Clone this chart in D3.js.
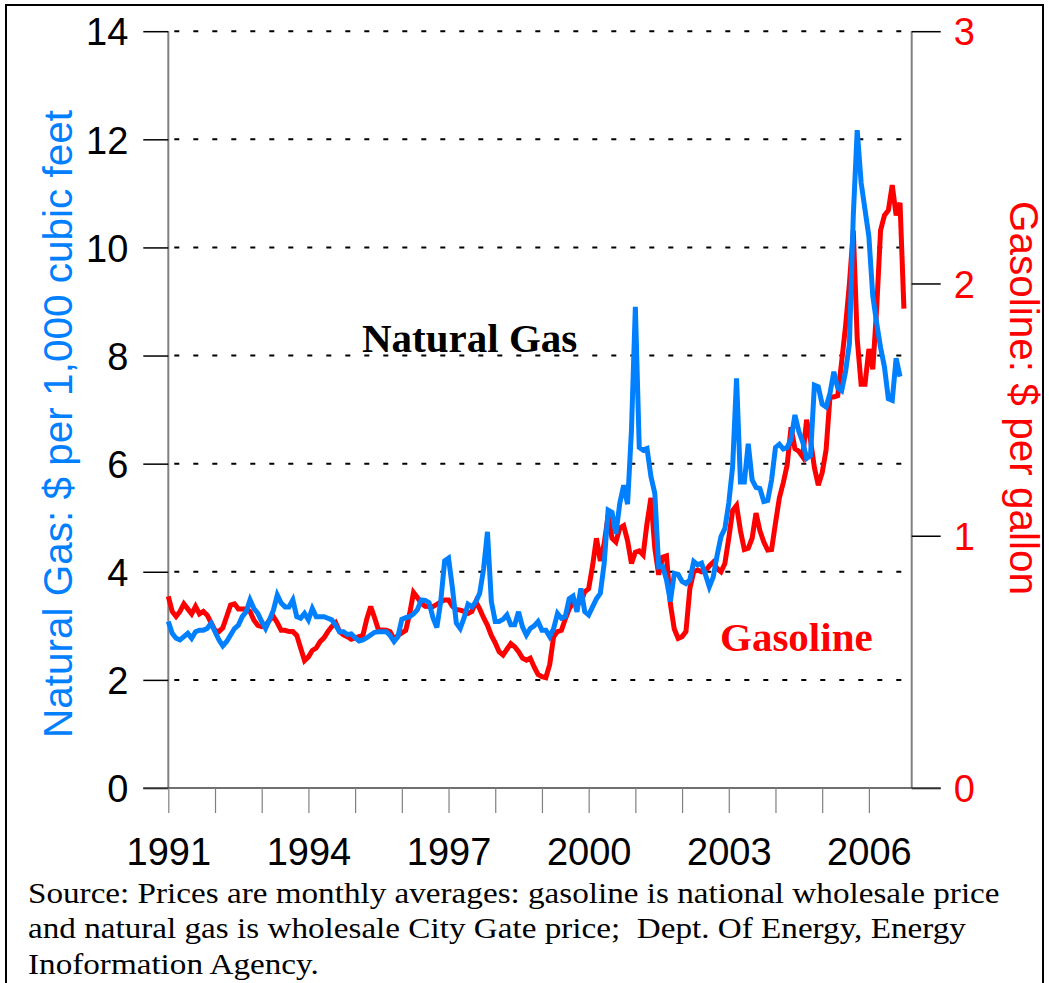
<!DOCTYPE html>
<html><head><meta charset="utf-8">
<script src="https://cdn.jsdelivr.net/npm/d3@7/dist/d3.min.js"></script>
<style>body{margin:0;background:#fff;} svg{display:block;}</style>
</head><body>
<svg id="chart" width="1049" height="983"></svg>
<script>
// Monthly averages starting January 1991
const startYear = 1991;
// Natural gas city gate price, $ per 1,000 cubic feet (Jan 1991 - Sep 2006)
const naturalGas = [
 3.08,2.86,2.77,2.74,2.80,2.86,2.77,2.89,2.92,2.92,2.95,3.05,
 2.89,2.74,2.63,2.71,2.83,2.95,3.01,3.17,3.26,3.48,3.32,3.23,
 3.08,2.95,3.11,3.29,3.57,3.42,3.35,3.35,3.48,3.17,3.14,3.23,
 3.11,3.32,3.17,3.17,3.17,3.14,3.11,3.01,2.89,2.89,2.84,2.85,
 2.78,2.72,2.74,2.78,2.83,2.88,2.89,2.89,2.89,2.82,2.71,2.80,
 3.12,3.15,3.17,3.22,3.30,3.48,3.47,3.43,3.15,2.97,3.45,4.20,
 4.25,3.70,3.05,2.95,3.15,3.40,3.35,3.44,3.60,4.05,4.74,3.45,
 3.08,3.08,3.12,3.20,3.02,3.02,3.26,2.98,2.83,2.95,3.00,3.08,
 2.92,2.92,2.80,2.95,3.23,3.14,3.17,3.50,3.55,3.26,3.69,3.26,
 3.20,3.35,3.50,3.60,4.16,5.14,5.10,4.70,5.27,5.60,5.25,6.62,
 8.90,6.30,6.25,6.28,5.76,5.45,4.09,4.10,3.85,3.45,3.97,3.95,
 3.82,3.78,3.85,4.19,4.13,4.16,3.95,3.72,3.90,4.30,4.65,4.80,
 5.27,5.95,7.58,5.66,5.66,6.37,5.70,5.56,5.54,5.30,5.32,5.70,
 6.30,6.36,6.27,6.30,6.45,6.90,6.60,6.40,6.10,6.15,7.45,7.42,
 7.10,7.05,7.30,7.70,7.40,7.35,7.70,8.22,10.60,12.17,11.20,10.70,
 10.20,9.10,8.60,8.15,7.79,7.20,7.17,7.95,7.61
];
// Gasoline national wholesale price, $ per gallon (Jan 1991 - Oct 2006)
const gasoline = [
 0.76,0.70,0.68,0.70,0.73,0.71,0.69,0.72,0.69,0.70,0.685,0.655,
 0.625,0.62,0.635,0.68,0.725,0.73,0.71,0.71,0.71,0.70,0.665,0.645,
 0.64,0.645,0.665,0.68,0.655,0.625,0.625,0.62,0.62,0.605,0.555,0.505,
 0.52,0.545,0.555,0.58,0.595,0.62,0.64,0.655,0.62,0.607,0.60,0.59,
 0.595,0.60,0.605,0.67,0.719,0.675,0.626,0.626,0.625,0.619,0.59,0.605,
 0.615,0.625,0.69,0.775,0.755,0.732,0.72,0.719,0.719,0.728,0.738,0.745,
 0.745,0.72,0.708,0.705,0.70,0.692,0.70,0.738,0.71,0.675,0.645,0.605,
 0.575,0.54,0.527,0.55,0.572,0.56,0.54,0.515,0.507,0.515,0.48,0.45,
 0.441,0.437,0.49,0.60,0.62,0.625,0.67,0.71,0.737,0.735,0.735,0.778,
 0.79,0.88,0.99,0.90,0.97,1.08,0.99,0.975,1.03,1.04,0.98,0.89,
 0.935,0.94,0.924,1.05,1.15,0.95,0.845,0.915,0.92,0.73,0.63,0.593,
 0.60,0.62,0.79,0.857,0.864,0.857,0.86,0.88,0.895,0.87,0.857,0.89,
 0.99,1.10,1.12,1.02,0.945,0.95,0.99,1.09,1.02,0.975,0.943,0.945,
 1.05,1.15,1.21,1.28,1.43,1.345,1.335,1.313,1.46,1.38,1.27,1.20,
 1.25,1.34,1.55,1.55,1.555,1.69,1.83,2.00,2.21,1.78,1.60,1.60,
 1.74,1.66,1.90,2.21,2.27,2.29,2.39,2.27,2.32,1.90
];
const yearTicks = [1991,1992,1993,1994,1995,1996,1997,1998,1999,2000,2001,2002,2003,2004,2005,2006];
const yearLabels = [1991,1994,1997,2000,2003,2006];
const leftTicks = [0,2,4,6,8,10,12,14];
const rightTicks = [0,1,2,3];
const leftTitle = "Natural Gas: $ per 1,000 cubic feet";
const rightTitle = "Gasoline: $ per gallon";
const sourceLines = [
 "Source: Prices are monthly averages: gasoline is national wholesale price",
 "and natural gas is wholesale City Gate price;  Dept. Of Energy, Energy",
 "Inoformation Agency."
];

const BLUE = "#0080ff", RED = "#ff0000";
const sans = "'Liberation Sans', Arial, sans-serif";
const serif = "'Liberation Serif', 'Times New Roman', serif";
const L = 168.3, R = 911.7, T = 31.2, B = 788;

const svg = d3.select("#chart");
svg.append("rect").attr("width",1049).attr("height",983).attr("fill","#fff");
svg.append("rect").attr("x",6).attr("y",5).attr("width",1037).attr("height",1000)
  .attr("fill","none").attr("stroke","#000").attr("stroke-width",2);

const x = d3.scaleLinear().domain([0,191]).range([L,R]);
const yL = d3.scaleLinear().domain([0,14]).range([B,T]);
const yR = d3.scaleLinear().domain([0,3]).range([B,T]);

// gridlines
svg.append("g").selectAll("line").data(leftTicks.filter(d=>d>0)).join("line")
  .attr("x1",L+6).attr("x2",R-2).attr("y1",d=>yL(d)).attr("y2",d=>yL(d))
  .attr("stroke","#000").attr("stroke-width",2).attr("stroke-dasharray","5,14");

// left axis
const gl = svg.append("g").attr("transform",`translate(${L},0)`)
  .call(d3.axisLeft(yL).tickValues(leftTicks).tickSize(25).tickPadding(15).tickFormat(d3.format("d")));
gl.select(".domain").attr("stroke","#808080").attr("stroke-width",2).attr("d",`M0,${T}V${B}`);
gl.selectAll(".tick line").attr("stroke","#000").attr("stroke-width",1.5);
gl.selectAll(".tick text").attr("font-family",sans).attr("font-size",38).attr("fill","#000").attr("dy","0.36em");

// right axis
const gr = svg.append("g").attr("transform",`translate(${R},0)`)
  .call(d3.axisRight(yR).tickValues(rightTicks).tickSize(29).tickPadding(13).tickFormat(d3.format("d")));
gr.select(".domain").attr("stroke","#808080").attr("stroke-width",2).attr("d",`M0,${T}V${B}`);
gr.selectAll(".tick line").attr("stroke","#000").attr("stroke-width",1.5);
gr.selectAll(".tick text").attr("font-family",sans).attr("font-size",38).attr("fill",RED).attr("dy","0.36em");

// bottom axis
const gb = svg.append("g").attr("transform",`translate(0,${B})`)
  .call(d3.axisBottom(x).tickValues(yearTicks.map(yv=>(yv-startYear)*12)).tickSize(25)
    .tickFormat(m => { const yv = startYear + m/12; return yearLabels.includes(yv) ? String(yv) : ""; }));
gb.select(".domain").attr("stroke","#404040").attr("stroke-width",1.5).attr("d",`M${L-25},0H${R+29}`);
gb.selectAll(".tick line").attr("stroke","#808080").attr("stroke-width",1.2);
gb.selectAll(".tick text").attr("font-family",sans).attr("font-size",38).attr("fill","#000")
  .attr("y",77).attr("dy",0);

// series
const lineL = d3.line().x((d,i)=>x(i)).y(d=>yL(d));
const lineR = d3.line().x((d,i)=>x(i)).y(d=>yR(d));
svg.append("path").datum(gasoline).attr("d",lineR).attr("fill","none")
  .attr("stroke",RED).attr("stroke-width",5).attr("stroke-linejoin","miter").attr("stroke-miterlimit",3);
svg.append("path").datum(naturalGas).attr("d",lineL).attr("fill","none")
  .attr("stroke",BLUE).attr("stroke-width",5).attr("stroke-linejoin","miter").attr("stroke-miterlimit",3);

// annotations
svg.append("text").attr("x",362).attr("y",352).attr("font-family",serif).attr("font-weight","bold")
  .attr("font-size",41).attr("fill","#000").text("Natural Gas");
svg.append("text").attr("x",720).attr("y",651).attr("font-family",serif).attr("font-weight","bold")
  .attr("font-size",41).attr("fill",RED).text("Gasoline");

// axis titles
svg.append("text").attr("transform","translate(72,424) rotate(-90)").attr("text-anchor","middle")
  .attr("font-family",sans).attr("font-size",40.5).attr("fill",BLUE).text(leftTitle);
svg.append("text").attr("transform","translate(1010,398) rotate(90)").attr("text-anchor","middle")
  .attr("font-family",sans).attr("font-size",40.5).attr("fill",RED).text(rightTitle);

// source (horizontally stretched serif text, as in the original)
svg.append("g").attr("transform","translate(28,0) scale(1.125,1)")
  .selectAll("text").data(sourceLines).join("text")
  .attr("x",0).attr("y",(d,i)=>903+i*35.5).attr("font-family",serif).attr("font-size",29.5)
  .attr("fill","#000").attr("xml:space","preserve").style("white-space","pre").text(d=>d);
</script>
</body></html>
